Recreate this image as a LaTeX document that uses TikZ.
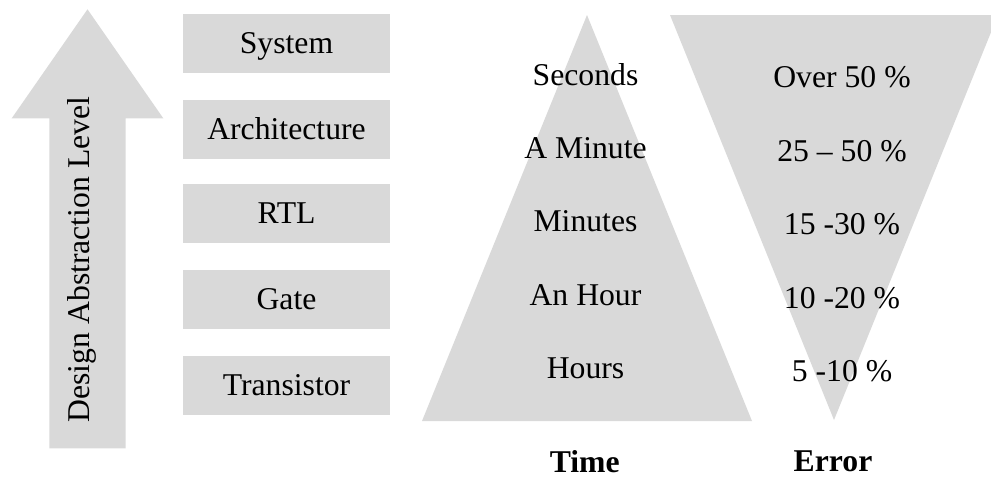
\documentclass[tikz,border=0pt]{standalone}
\usepackage{fontspec}
\setmainfont{Liberation Serif}
\definecolor{panelgray}{HTML}{D9D9D9}
\newcommand\lblsize{\fontsize{31.7}{38}\selectfont}
\begin{document}
\begin{tikzpicture}[x=1pt,y=-1pt,
  level/.style={fill=panelgray, minimum width=207pt, minimum height=59pt,
    inner sep=0pt, text height=20pt, text depth=1pt, font=\lblsize},
  lbl/.style={anchor=base, inner sep=0pt, font=\lblsize},
  head/.style={lbl, font=\lblsize\bfseries}]
\useasboundingbox (0,0) rectangle (991,477);
\clip (0,0) rectangle (991,477);

% abstraction arrow
\fill[panelgray] (49.3,448.3) -- (49.3,118.3) -- (11.7,118.3) -- (87.5,9.3)
  -- (163.3,118.3) -- (125.7,118.3) -- (125.7,448.3) -- cycle;
\node[lbl, rotate=90] (axis) at (89.3,259.5) {Design Abstraction Level};

% abstraction levels
\node[level] (sys)   at (286.5,43.5)  {System};
\node[level] (arch)  at (286.5,129.5) {Architecture};
\node[level] (rtl)   at (286.5,213.5) {RTL};
\node[level] (gate)  at (286.5,299.5) {Gate};
\node[level] (trans) at (286.5,385.5) {Transistor};

% time pyramid and error funnel
\fill[panelgray] (422,421) -- (752,421) -- (587,15) -- cycle;
\fill[panelgray] (670,15) -- (998,15) -- (834,420) -- cycle;

\node[lbl] (t1) at (585.5,85)  {Seconds};
\node[lbl] (t2) at (585.5,158) {A Minute};
\node[lbl] (t3) at (585.5,231) {Minutes};
\node[lbl] (t4) at (585.5,305) {An Hour};
\node[lbl] (t5) at (585.5,378) {Hours};

\node[lbl] (e1) at (842,87)    {Over 50 \%};
\node[lbl] (e2) at (842,161)   {25 -- 50 \%};
\node[lbl] (e3) at (842,234.5) {15 -30 \%};
\node[lbl] (e4) at (842,308)   {10 -20 \%};
\node[lbl] (e5) at (842,381.7) {5 -10 \%};

\node[head] (time)  at (584.7,472)   {Time};
\node[head] (error) at (833,471)     {Error};
\end{tikzpicture}
\end{document}
